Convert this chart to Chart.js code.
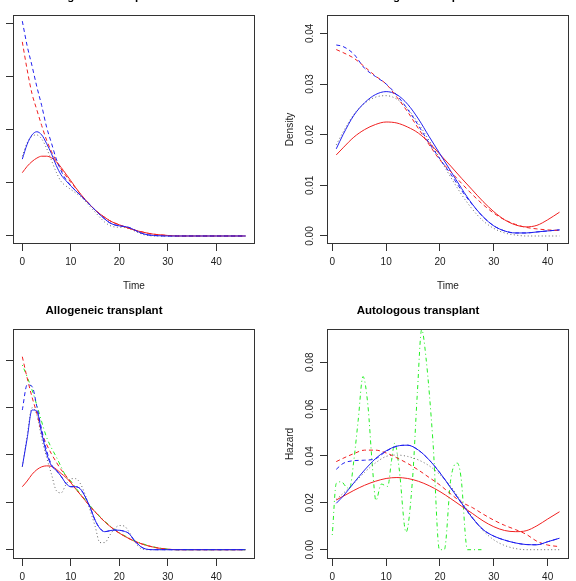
<!DOCTYPE html>
<html>
<head>
<meta charset="utf-8">
<script src="https://cdn.jsdelivr.net/npm/chart.js@4.4.1/dist/chart.umd.min.js"></script>
<style>
  html, body { margin: 0; padding: 0; background: #fff; }
  body { position: relative; width: 576px; height: 581px; overflow: hidden; }
  canvas { position: absolute; }
</style>
</head>
<body>
<canvas id="c1" width="317" height="329" style="left:-47px;top:-25px"></canvas>
<canvas id="c2" width="317" height="329" style="left:267px;top:-25px"></canvas>
<canvas id="c3" width="317" height="330" style="left:-47px;top:289px"></canvas>
<canvas id="c4" width="317" height="330" style="left:267px;top:289px"></canvas>
<script>
// ---- data: allogeneic density (top left)
var alloTime = [0,1,2,3,4,5,6,7,8,9,10,11,12,13,14,15,16,17,18,19,20,21,22,23,24,25,26,27,28,30,32,35,40,46];
var alloDensRed = [.0238,.0262,.0280,.0293,.0300,.0300,.0294,.0280,.0258,.0233,.0208,.0182,.0158,.0136,.0116,.0098,.0083,.0070,.0058,.0049,.0042,.0035,.0029,.0023,.0018,.0014,.0010,.0007,.0005,.0002,0,0,0,0];
var alloDensBlue = [.0289,.0345,.0380,.0392,.0380,.0348,.0310,.0265,.0230,.0208,.0188,.0170,.0153,.0135,.0116,.0098,.0080,.0064,.0050,.0042,.0038,.0036,.0032,.0024,.0015,.0008,.0004,.0002,.0001,0,0,0,0,0];
var alloDensRedDash = [.0730,.0625,.0535,.0474,.0415,.0361,.0318,.0282,.0252,.0226,.0202,.0180,.0158,.0136,.0116,.0098,.0083,.0070,.0058,.0049,.0042,.0035,.0029,.0023,.0018,.0014,.0010,.0007,.0005,.0002,0,0,0,0];
var alloDensBlueDash = [.0808,.0715,.0640,.0561,.0490,.0410,.0350,.0290,.0245,.0212,.0190,.0170,.0153,.0135,.0116,.0098,.0080,.0064,.0050,.0042,.0038,.0036,.0032,.0024,.0015,.0008,.0004,.0002,.0001,0,0,0,0,0];
var alloDensDot = [.0300,.0350,.0375,.0380,.0365,.0330,.0285,.0240,.0205,.0188,.0175,.0162,.0148,.0130,.0110,.0090,.0070,.0052,.0040,.0034,.0033,.0032,.0028,.0020,.0012,.0005,.0002,0,0,0,0,0,0,0];

// ---- data: autologous density (top right)
var autoTime = [0.74,2,4,6,8,10,12,14,16,18,20,22,24,26,28,30,32,34,36,38,40,42.2];
var autoDensRed = [.0160,.0174,.0195,.0210,.0220,.0225,.0223,.0215,.0203,.0184,.0161,.0138,.0114,.0091,.0068,.0048,.0032,.0022,.0018,.0021,.0032,.0047];
var autoDensBlue = [.0172,.0200,.0238,.0263,.0279,.0285,.0279,.0260,.0231,.0196,.0162,.0128,.0094,.0063,.0038,.0020,.0010,.0006,.0006,.0008,.0010,.0012];
var autoDensRedDash = [.0368,.0362,.0351,.0334,.0316,.0300,.0274,.0245,.0212,.0180,.0150,.0127,.0104,.0082,.0062,.0045,.0032,.0023,.0017,.0014,.0012,.0011];
var autoDensBlueDash = [.0377,.0374,.0359,.0331,.0315,.0300,.0278,.0250,.0218,.0183,.0152,.0122,.0090,.0062,.0038,.0020,.0010,.0006,.0006,.0008,.0010,.0012];
var autoDensDot = [.0180,.0205,.0240,.0262,.0274,.0277,.0270,.0251,.0222,.0188,.0152,.0116,.0082,.0053,.0030,.0015,.0006,.0002,0,0,0,0];

// ---- data: allogeneic hazard (bottom left)
var alloHazRed = [.0266,.0290,.0318,.0338,.0350,.0354,.0352,.0340,.0322,.0305,.0283,.0257,.0232,.0207,.0182,.0160,.0138,.0118,.0100,.0084,.0070,.0058,.0047,.0037,.0029,.0022,.0016,.0011,.0007,.0002,0,0,0,0];
var alloHazBlue = [.0351,.0470,.0590,.0585,.0492,.0407,.0355,.0335,.0310,.0280,.0266,.0266,.0256,.0222,.0178,.0125,.0090,.0076,.0080,.0083,.0082,.0078,.0068,.0042,.0020,.0006,.0001,0,0,0,0,0,0,0];
var alloHazRedDash = [.0815,.0725,.0645,.0575,.0495,.0445,.0405,.0370,.0338,.0312,.0285,.0257,.0232,.0207,.0182,.0160,.0138,.0118,.0100,.0084,.0070,.0058,.0047,.0037,.0029,.0022,.0016,.0011,.0007,.0002,0,0,0,0];
var alloHazGreen = [.0780,.0730,.0675,.0610,.0540,.0475,.0430,.0392,.0350,.0310,.0290,.0262,.0235,.0210,.0185,.0162,.0140,.0120,.0102,.0086,.0072,.0060,.0049,.0039,.0031,.0024,.0017,.0012,.0008,.0002,0,0,0,0];
var alloHazBlueDash = [.0590,.0696,.0690,.0604,.0507,.0420,.0360,.0335,.0310,.0280,.0266,.0266,.0256,.0222,.0178,.0125,.0090,.0076,.0080,.0083,.0082,.0078,.0068,.0042,.0020,.0006,.0001,0,0,0,0,0,0,0];
var alloHazDot = [.0350,.0480,.0600,.0570,.0470,.0390,.0320,.0250,.0240,.0275,.0300,.0300,.0278,.0230,.0165,.0100,.0030,.0030,.0060,.0088,.0102,.0100,.0075,.0040,.0012,.0001,0,0,0,0,0,0,0,0];

// ---- data: autologous hazard (bottom right)
var autoHazRed = [.0212,.0228,.0253,.0275,.0292,.0304,.0308,.0304,.0292,.0273,.0248,.0218,.0186,.0155,.0123,.0098,.0082,.0077,.0081,.0102,.0131,.0162];
var autoHazBlue = [.0198,.0228,.0285,.0340,.0388,.0422,.0442,.0446,.0425,.0383,.0328,.0264,.0199,.0136,.0086,.0058,.0041,.0029,.0022,.0021,.0034,.0049];
var autoHazRedDash = [.0376,.0390,.0410,.0425,.0425,.0413,.0392,.0368,.0340,.0308,.0276,.0238,.0203,.0180,.0152,.0126,.0104,.0086,.0066,.0036,.0020,.0013];
var autoHazBlueDash = [.0343,.0368,.0380,.0382,.0388,.0420,.0442,.0446,.0425,.0383,.0328,.0264,.0199,.0136,.0086,.0058,.0041,.0029,.0022,.0021,.0034,.0049];
var autoHazDot = [.0215,.0240,.0283,.0330,.0370,.0398,.0404,.0398,.0383,.0358,.0320,.0270,.0205,.0140,.0082,.0042,.0018,.0005,0,0,0,0];
var autoGreenTime = [0,0.74,1.7,2.5,3.2,4,4.8,5.7,6.6,7.5,8.1,9.1,10.3,11,11.6,12.4,13.7,14.9,15.8,16.6,17.4,18.7,19.9,20.8,22,23.2,23.9,25.1,27.7];
var autoHazGreen = [.0063,.0283,.0290,.0270,.0260,.0380,.0550,.0739,.0620,.0340,.0210,.0280,.0270,.0380,.0455,.0350,.0075,.0300,.0670,.0939,.0820,.0460,0,0,.0300,.0370,.0310,0,0];

var xTicks = [0, 10, 20, 30, 40];
var densTicksAllo = [0, 0.02, 0.04, 0.06, 0.08];
var densTicksAuto = [0, 0.01, 0.02, 0.03, 0.04];
var hazTicks = [0, 0.02, 0.04, 0.06, 0.08];

var FONT = '"Liberation Sans", Arial, Helvetica, sans-serif';
var RED = '#f02020', BLUE = '#2020f0', GREEN = '#22ee22', GREY = '#666666';
var DASH = [4, 3], DOT = [1, 2.5], DOTDASH = [1, 3, 4, 3];

function series(ts, ys, color, dash) {
  return {
    data: ts.map(function (t, i) { return { x: t, y: ys[i] }; }),
    borderColor: color,
    borderWidth: 1,
    borderDash: dash || [],
    pointRadius: 0,
    showLine: true,
    fill: false,
    cubicInterpolationMode: 'monotone'
  };
}

var boxPlugin = {
  id: 'rbox',
  afterDatasetsDraw: function (chart) {
    var a = chart.chartArea, ctx = chart.ctx;
    ctx.save();
    ctx.strokeStyle = '#333';
    ctx.lineWidth = 1;
    ctx.strokeRect(a.left + 0.5, a.top + 0.5, a.right - a.left - 1, a.bottom - a.top - 1);
    ctx.restore();
  }
};

function makePanel(id, title, ylab, xmin, xmax, ymin, ymax, yTicks, datasets) {
  new Chart(document.getElementById(id), {
    type: 'scatter',
    data: { datasets: datasets },
    options: {
      responsive: false,
      animation: false,
      devicePixelRatio: 1,
      layout: { padding: { left: 0, right: 15, top: 0, bottom: 0 } },
      plugins: {
        legend: { display: false },
        tooltip: { enabled: false },
        title: {
          display: true, text: title, color: '#000',
          font: { family: FONT, size: 11.5, weight: 'bold', lineHeight: 1.2 },
          padding: { top: 14.8, bottom: 11.4 }
        }
      },
      scales: {
        x: {
          type: 'linear', min: xmin, max: xmax,
          afterBuildTicks: function (s) { s.ticks = xTicks.map(function (v) { return { value: v }; }); },
          afterFit: function (s) { s.height = 60; },
          grid: { drawOnChartArea: false, drawTicks: true, tickLength: 7, color: '#333' },
          border: { display: false },
          ticks: { color: '#222', padding: 5.5, maxRotation: 0, font: { family: FONT, size: 10 },
                   callback: function (v) { return String(v); } },
          title: { display: true, text: 'Time', color: '#222', font: { family: FONT, size: 10 },
                   padding: { top: 0, bottom: 12 } }
        },
        y: {
          type: 'linear', min: ymin, max: ymax,
          afterBuildTicks: function (s) { s.ticks = yTicks.map(function (v) { return { value: v }; }); },
          afterFit: function (s) { s.width = 60; },
          grid: { drawOnChartArea: false, drawTicks: true, tickLength: 7, color: '#333' },
          border: { display: false },
          ticks: { color: '#222', padding: 0, minRotation: 90, maxRotation: 90, crossAlign: 'center',
                   font: { family: FONT, size: 10 },
                   callback: function (v) { return v.toFixed(2); } },
          title: { display: true, text: ylab, color: '#222', font: { family: FONT, size: 10 },
                   padding: { top: 17, bottom: 0 } }
        }
      }
    },
    plugins: [boxPlugin]
  });
}

makePanel('c1', 'Allogeneic transplant', 'Density', -1.92, 47.98, -0.00301, 0.0831, densTicksAllo, [
  series(alloTime, alloDensBlueDash, BLUE, DASH),
  series(alloTime, alloDensRedDash, RED, DASH),
  series(alloTime, alloDensBlue, BLUE),
  series(alloTime, alloDensRed, RED),
  series(alloTime, alloDensDot, GREY, DOT)
]);

makePanel('c2', 'Autologous transplant', 'Density', -0.98, 43.96, -0.00158, 0.04362, densTicksAuto, [
  series(autoTime, autoDensBlueDash, BLUE, DASH),
  series(autoTime, autoDensRedDash, RED, DASH),
  series(autoTime, autoDensBlue, BLUE),
  series(autoTime, autoDensRed, RED),
  series(autoTime, autoDensDot, GREY, DOT)
]);

makePanel('c3', 'Allogeneic transplant', 'Hazard', -1.92, 47.98, -0.00393, 0.0932, hazTicks, [
  series(alloTime, alloHazBlueDash, BLUE, DASH),
  series(alloTime, alloHazBlue, BLUE),
  series(alloTime, alloHazRedDash, RED, DASH),
  series(alloTime, alloHazGreen, GREEN, DOTDASH),
  series(alloTime, alloHazRed, RED),
  series(alloTime, alloHazDot, GREY, DOT)
]);

makePanel('c4', 'Autologous transplant', 'Hazard', -0.98, 43.96, -0.00397, 0.0942, hazTicks, [
  series(autoTime, autoHazBlueDash, BLUE, DASH),
  series(autoTime, autoHazBlue, BLUE),
  series(autoTime, autoHazRedDash, RED, DASH),
  series(autoTime, autoHazRed, RED),
  series(autoTime, autoHazDot, GREY, DOT),
  series(autoGreenTime, autoHazGreen, GREEN, DOTDASH)
]);
</script>
</body>
</html>
